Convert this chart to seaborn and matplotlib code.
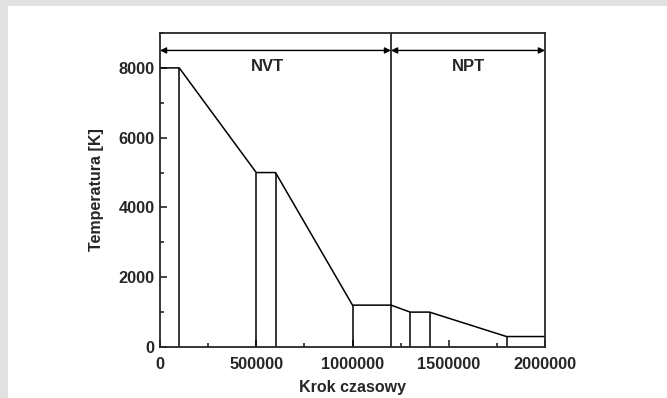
import matplotlib
matplotlib.use("Agg")
import matplotlib.pyplot as plt
import matplotlib.patches as mpatches
import seaborn as sns
import pandas as pd
from matplotlib.ticker import MultipleLocator, FuncFormatter

# -------------------------------------------------------
# DATA
# -------------------------------------------------------
steps = [0, 100000, 500000, 600000, 1000000, 1200000, 1300000, 1400000, 1800000, 2000000]
temps = [8000, 8000, 5000, 5000, 1200, 1200, 1000, 1000, 300, 300]

# segment boundaries drawn as vertical lines down to zero
bound_steps = [100000, 500000, 600000, 1000000, 1300000, 1400000, 1800000]
bound_temps = [8000, 5000, 5000, 1200, 1000, 1000, 300]

ens_split = 1200000
ens_names = ["NVT", "NPT"]
ens_ranges = [(0, 1200000), (1200000, 2000000)]
arrow_y = 8500
label_y = 8050
label_x = [560000, 1600000]

df = pd.DataFrame({"step": steps, "temp": temps})

# -------------------------------------------------------
# PLOT
# -------------------------------------------------------
sns.set_style("ticks")
plt.rcParams["font.family"] = ["Liberation Sans", "DejaVu Sans"]
plt.rcParams["font.weight"] = "bold"

fig = plt.figure(figsize=(6.67, 3.98), dpi=100, facecolor="#e2e2e2")
bg = mpatches.Rectangle((8 / 667, 0), 1, 1 - 6 / 398,
                        transform=fig.transFigure,
                        facecolor="white", edgecolor="none", zorder=-10)
fig.patches.append(bg)
ax = fig.add_axes([160 / 667, 1 - 347 / 398, 385 / 667, 314 / 398])
ax.set_zorder(1)

sns.lineplot(data=df, x="step", y="temp", color="black", linewidth=1.1, ax=ax)
ax.vlines(bound_steps, 0, bound_temps, color="black", linewidth=1.1)
ax.axvline(ens_split, color="black", linewidth=1.1)

for (x0, x1), name, lx in zip(ens_ranges, ens_names, label_x):
    ax.annotate("", xy=(x0, arrow_y), xytext=(x1, arrow_y),
                arrowprops=dict(arrowstyle="<|-|>", color="black", lw=1.0,
                                shrinkA=0, shrinkB=0, mutation_scale=9))
    ax.text(lx, label_y, name, ha="center", va="center",
            fontsize=12, fontweight="bold")

ax.set_xlim(0, 2000000)
ax.set_ylim(0, 9000)
ax.xaxis.set_major_locator(MultipleLocator(500000))
ax.xaxis.set_minor_locator(MultipleLocator(250000))
ax.xaxis.set_major_formatter(FuncFormatter(lambda v, p: f"{int(round(v))}"))
ax.yaxis.set_major_locator(MultipleLocator(2000))
ax.yaxis.set_minor_locator(MultipleLocator(1000))
ax.tick_params(which="both", direction="in", top=False, right=False,
               width=1.2, labelsize=11.8, pad=4)
ax.tick_params(axis="x", which="both", pad=7)
ax.tick_params(which="major", length=5)
ax.tick_params(which="minor", length=3)
for lab in ax.get_xticklabels() + ax.get_yticklabels():
    lab.set_fontweight("bold")

for sp in ax.spines.values():
    sp.set_visible(True)
    sp.set_linewidth(1.3)

ax.set_xlabel("Krok czasowy", fontsize=11.5, fontweight="bold", labelpad=6)
ax.set_ylabel("Temperatura [K]", fontsize=11.5, fontweight="bold", labelpad=10)

fig.savefig("out.png", dpi=100, facecolor=fig.get_facecolor())
